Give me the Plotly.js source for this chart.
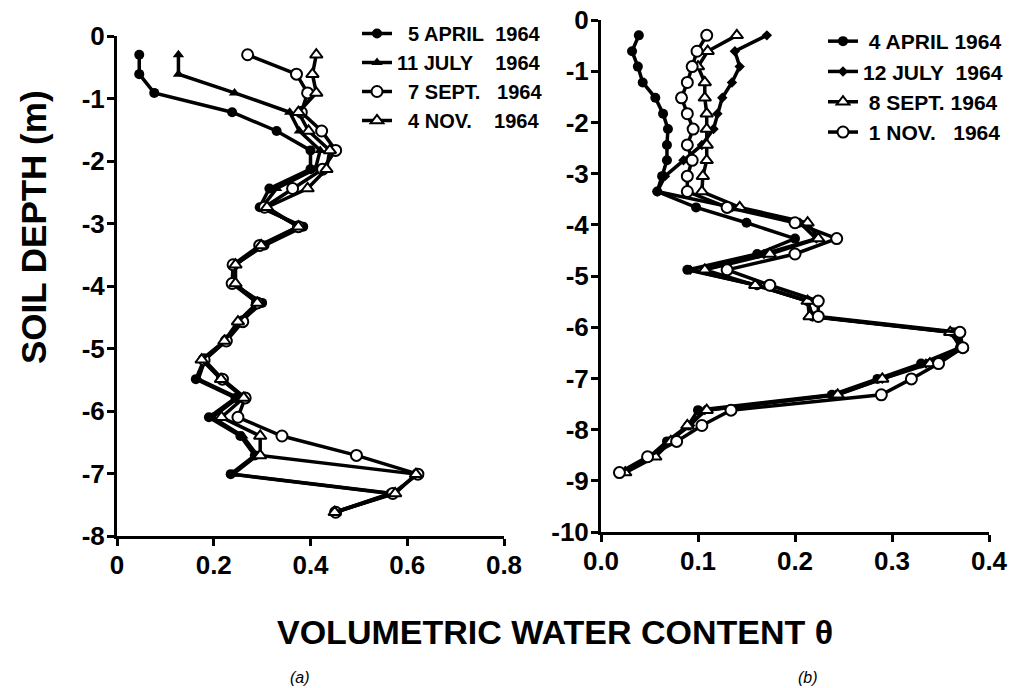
<!DOCTYPE html>
<html>
<head>
<meta charset="utf-8">
<script src="https://cdn.plot.ly/plotly-3.0.1.min.js"></script>
<style>html,body{margin:0;padding:0;background:#fff;}</style>
</head>
<body>
<div id="chart" style="width:1010px;height:688px;"></div>
<script>
// ---------- Panel (a) ----------
const depthA = [-0.30,-0.61,-0.91,-1.22,-1.52,-1.83,-2.13,-2.44,-2.74,-3.05,-3.35,-3.66,-3.96,-4.27,-4.57,-4.88,-5.18,-5.49,-5.79,-6.10,-6.40,-6.71,-7.01,-7.32,-7.62];
const aprilA = [0.046,0.046,0.077,0.238,0.330,0.400,0.400,0.315,0.295,0.385,0.305,0.243,0.240,0.300,0.255,0.224,0.180,0.163,0.245,0.190,0.255,0.285,0.235,0.565,0.450];
const julyA  = [0.127,0.127,0.243,0.357,0.377,0.420,0.410,0.330,0.300,0.380,0.300,0.245,0.240,0.295,0.257,0.224,0.182,0.168,0.250,0.197,0.260,0.290,0.240,0.570,0.450];
const septA  = [0.270,0.371,0.394,0.381,0.423,0.452,0.425,0.363,0.305,0.375,0.295,0.240,0.238,0.290,0.260,0.226,0.180,0.218,0.265,0.250,0.341,0.495,0.622,0.570,0.452];
const novA   = [0.412,0.404,0.412,0.375,0.396,0.440,0.433,0.394,0.310,0.375,0.298,0.245,0.245,0.290,0.250,0.222,0.175,0.215,0.262,0.216,0.296,0.296,0.618,0.575,0.450];
const NB = '\u00a0';
const namesA = [NB+NB+'5 APRIL'+NB+NB+'1964', '11 JULY'+NB+NB+NB+NB+'1964', NB+NB+'7 SEPT.'+NB+NB+NB+'1964', NB+NB+'4 NOV.'+NB+NB+NB+NB+'1964'];
const xTickValsA = [0,0.2,0.4,0.6,0.8];
const xTickTextA = ['0','0.2','0.4','0.6','0.8'];
const yTickValsA = [0,-1,-2,-3,-4,-5,-6,-7,-8];
const yTickTextA = ['0','-1','-2','-3','-4','-5','-6','-7','-8'];

// ---------- Panel (b) ----------
const depthB = [-0.30,-0.61,-0.91,-1.22,-1.52,-1.83,-2.13,-2.44,-2.74,-3.05,-3.35,-3.66,-3.96,-4.27,-4.57,-4.88,-5.18,-5.49,-5.79,-6.10,-6.40,-6.71,-7.01,-7.32,-7.62,-7.92,-8.23,-8.53,-8.84];
const aprilB = [0.039,0.032,0.038,0.043,0.056,0.064,0.069,0.068,0.068,0.063,0.058,0.098,0.150,0.200,0.161,0.089,0.161,0.213,0.218,0.362,0.370,0.330,0.285,0.238,0.100,0.090,0.068,0.050,0.020];
const julyB  = [0.171,0.138,0.143,0.135,0.125,0.120,0.116,0.104,0.085,0.066,0.058,0.135,0.205,0.222,0.168,0.092,0.160,0.213,0.218,0.365,0.372,0.335,0.290,0.242,0.107,0.092,0.070,0.052,0.022];
const septB  = [0.140,0.110,0.100,0.107,0.107,0.109,0.109,0.109,0.109,0.105,0.104,0.143,0.213,0.224,0.174,0.107,0.159,0.213,0.215,0.360,0.372,0.339,0.290,0.244,0.109,0.089,0.072,0.056,0.025];
const novB   = [0.109,0.099,0.094,0.089,0.083,0.089,0.095,0.089,0.094,0.089,0.089,0.130,0.200,0.243,0.200,0.130,0.174,0.224,0.224,0.370,0.373,0.348,0.320,0.289,0.134,0.104,0.078,0.048,0.019];
const namesB = [NB+'4 APRIL'+NB+'1964', '12 JULY'+NB+NB+'1964', NB+'8 SEPT.'+NB+'1964', NB+'1 NOV.'+NB+NB+NB+'1964'];
const xTickValsB = [0,0.1,0.2,0.3,0.4];
const xTickTextB = ['0.0','0.1','0.2','0.3','0.4'];
const yTickValsB = [0,-1,-2,-3,-4,-5,-6,-7,-8,-9,-10];
const yTickTextB = ['0','-1','-2','-3','-4','-5','-6','-7','-8','-9','-10'];

const FONT = 'Liberation Sans, Arial, sans-serif';
const LW = 3.5;

function tr(x, y, name, sym, size, open, xa, ya, leg, grp) {
  return {
    type: 'scatter', mode: 'lines+markers', x: x, y: y, name: name,
    xaxis: xa, yaxis: ya, legend: leg, legendgroup: grp,
    line: {color: 'black', width: LW},
    marker: {symbol: sym, size: size, color: open ? 'white' : 'black',
             line: {color: 'black', width: open ? 2 : 0}}
  };
}

const data = [
  tr(aprilA, depthA, namesA[0], 'circle', 10, false, 'x', 'y', 'legend', 'a1'),
  tr(julyA,  depthA, namesA[1], 'triangle-up', 10, false, 'x', 'y', 'legend', 'a2'),
  tr(septA,  depthA, namesA[2], 'circle', 11, true, 'x', 'y', 'legend', 'a3'),
  tr(novA,   depthA, namesA[3], 'triangle-up', 11, true, 'x', 'y', 'legend', 'a4'),
  tr(aprilB, depthB, namesB[0], 'circle', 10, false, 'x2', 'y2', 'legend2', 'b1'),
  tr(julyB,  depthB, namesB[1], 'diamond', 8, false, 'x2', 'y2', 'legend2', 'b2'),
  tr(septB,  depthB, namesB[2], 'triangle-up', 11, true, 'x2', 'y2', 'legend2', 'b3'),
  tr(novB,   depthB, namesB[3], 'circle', 11, true, 'x2', 'y2', 'legend2', 'b4')
];

const tickFont = {family: FONT, size: 26, color: 'black', weight: 700};
function axis(extra) {
  return Object.assign({
    showline: true, linewidth: 3, linecolor: 'black', mirror: false,
    ticks: 'outside', ticklen: 7, tickwidth: 3, tickcolor: 'black',
    ticklabelstandoff: -3,
    showgrid: false, zeroline: false, tickfont: tickFont, fixedrange: true
  }, extra);
}

const W = 1010, H = 688;
const layout = {
  width: W, height: H,
  margin: {l: 0, r: 0, t: 0, b: 0, autoexpand: false},
  paper_bgcolor: 'white', plot_bgcolor: 'white',
  showlegend: true,
  xaxis: axis({domain: [117/W, 504/W], range: [0, 0.8], anchor: 'y', tickvals: xTickValsA, ticktext: xTickTextA}),
  yaxis: axis({domain: [1 - 536/H, 1 - 36/H], range: [-8, 0], anchor: 'x', tickvals: yTickValsA, ticktext: yTickTextA}),
  xaxis2: axis({domain: [601/W, 989/W], range: [0, 0.4], anchor: 'y2', tickvals: xTickValsB, ticktext: xTickTextB}),
  yaxis2: axis({domain: [1 - 532/H, 1 - 20/H], range: [-10, 0], anchor: 'x2', tickvals: yTickValsB, ticktext: yTickTextB}),
  legend: {x: 357/W, y: 1 - 14/H, xanchor: 'left', yanchor: 'top', bgcolor: 'rgba(0,0,0,0)',
           font: {family: FONT, size: 20, color: 'black', weight: 700},
           traceorder: 'grouped', tracegroupgap: 0, itemwidth: 30},
  legend2: {x: 823/W, y: 1 - 21/H, xanchor: 'left', yanchor: 'top', bgcolor: 'rgba(0,0,0,0)',
           font: {family: FONT, size: 21, color: 'black', weight: 700},
           traceorder: 'grouped', tracegroupgap: 0, itemwidth: 30},
  annotations: [
    {text: 'SOIL DEPTH (m)', xref: 'paper', yref: 'paper', x: 33/W, y: 1 - 227/H,
     xanchor: 'center', yanchor: 'middle',
     textangle: -90, showarrow: false, font: {family: FONT, size: 35, color: 'black', weight: 700}},
    {text: 'VOLUMETRIC WATER CONTENT \u03b8', xref: 'paper', yref: 'paper', x: 555/W, y: 1 - 632/H,
     xanchor: 'center', yanchor: 'middle',
     showarrow: false, font: {family: FONT, size: 34, color: 'black', weight: 700}},
    {text: '<i>(a)</i>', xref: 'paper', yref: 'paper', x: 300/W, y: 1 - 677/H,
     xanchor: 'center', yanchor: 'middle',
     showarrow: false, font: {family: FONT, size: 16, color: 'black'}},
    {text: '<i>(b)</i>', xref: 'paper', yref: 'paper', x: 808/W, y: 1 - 677/H,
     xanchor: 'center', yanchor: 'middle',
     showarrow: false, font: {family: FONT, size: 16, color: 'black'}}
  ]
};

Plotly.newPlot('chart', data, layout, {staticPlot: true, displayModeBar: false});
</script>
</body>
</html>
